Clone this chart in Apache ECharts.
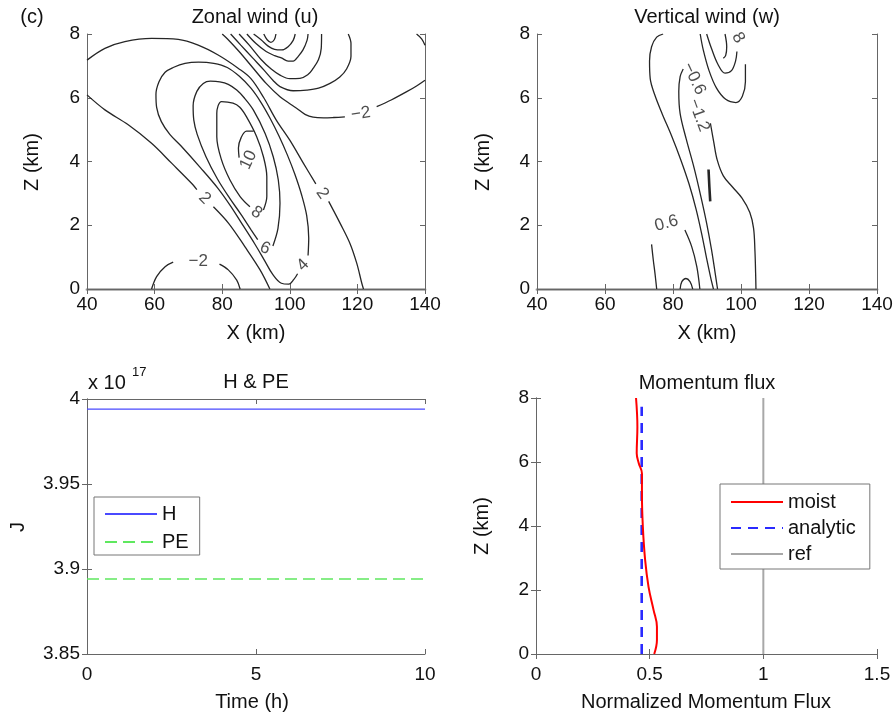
<!DOCTYPE html>
<html>
<head>
<meta charset="utf-8">
<script src="https://cdn.jsdelivr.net/npm/echarts@6/dist/echarts.min.js"></script>
<style>
  html, body { margin: 0; padding: 0; background: #fff; }
  #chart { width: 896px; height: 720px; }
</style>
</head>
<body>
<div id="chart"></div>
<script>
// ---- Zonal wind (u): contour paths, [X km, Z km] ----
const uPos2Upper = [[40,7.18],[45.3,7.55],[51.2,7.76],[59.1,7.86],[67,7.83],[72.9,7.65],[78.8,7.34],[84.8,6.92],[88.5,6.6],[92.3,6.0],[96,5.3],[100,4.67],[104,3.95],[107.7,3.3]];
const uPos2UpperTail = [[111.5,2.75],[114.9,2.06],[117.8,1.43],[119.8,0.81],[121.3,0.18],[121.8,0]];
const uPos2Lower = [[40,6.09],[45.3,5.62],[52.2,5.15],[59.1,4.57],[65.1,3.94],[71,3.31],[72.5,3.12]];
const uPos2LowerTail = [[77.4,2.58],[81.9,2.06],[86.7,1.33],[91.2,0.6],[94.1,0]];
const uPos4 = [[102.3,0.48],[101.2,0.3],[99.7,0.15],[97.5,0.18],[95,0.45],[92.5,0.9],[89.6,1.42],[86.3,1.97],[82.5,2.6],[78.8,3.15],[73.6,3.8],[67.7,4.5],[64.5,4.85],[62,5.25],[60.6,5.7],[60.4,6.1],[61.3,6.5],[63.1,6.8],[65.5,6.95],[69,7.08],[73,7.12],[77.5,7.08],[81.5,6.95],[85,6.68],[88.5,6.3],[91.5,5.85],[94.2,5.35],[96.8,4.8],[99.3,4.2],[101.5,3.6],[103.5,2.95],[105,2.3],[105.6,1.6],[105.4,1.05]];
const uPos6 = [[90.5,1.55],[88.6,1.85],[85.5,2.35],[82.2,2.85],[78.6,3.45],[75.2,4.15],[72.6,4.85],[71.6,5.3],[71.4,5.75],[72.5,6.2],[74.4,6.45],[76.5,6.52],[79.3,6.5],[81.8,6.42],[84.3,6.24],[86.5,6.0],[89.2,5.62],[92.7,4.88],[95.1,4.15],[96.6,3.42],[97.1,2.69],[96.5,1.9],[95.0,1.35]];
const uPos8 = [[88.2,2.58],[85.3,2.9],[82.3,3.42],[79.8,4.05],[78.4,4.78],[78.4,5.51],[79.8,5.88],[83.2,5.83],[85.2,5.7],[87.2,5.4],[90.2,4.78],[92.2,4.15],[93.2,3.52],[93.2,2.9],[92.2,2.48]];
const uPos10 = [[89.3,4.95],[87.2,4.95],[85.6,4.75],[84.8,4.42],[85.0,4.12]];
const uNeg2Bottom = [[59.1,0],[60.6,0.39],[63.1,0.7],[65.5,0.84]];
const uNeg2BottomTail = [[79.2,0.78],[81.8,0.6],[84.3,0.28],[85.3,0]];
const uNeg2Top = [[80,8],[81.5,7.85],[85,7.45],[89,6.95],[93,6.45],[97.1,6.03],[99.5,5.85],[102,5.67],[104.5,5.48],[106.9,5.39],[110,5.37],[113,5.38],[116.3,5.4]];
const uNeg2TopTail = [[125.7,5.72],[130,5.93],[134.6,6.19],[137.5,6.37],[140,6.55]];
const uNeg2Corner = [[137.5,8],[139,7.85],[140,7.65]];
const uNeg4 = [[82.5,8],[85.5,7.65],[89,7.25],[92.5,6.85],[95,6.55],[97.1,6.35],[101,6.22],[105,6.24],[108.5,6.3],[111.9,6.45],[114.8,6.65],[116.8,6.9],[118.1,7.3],[118.1,7.7],[117.3,8]];
const uNeg6 = [[85,8],[88,7.65],[91.5,7.2],[94.5,6.9],[97.1,6.71],[100,6.6],[103,6.61],[105.3,6.72],[106.9,6.92],[108.5,7.2],[109.3,7.55],[109.4,8]];
const uNeg8 = [[87.3,8],[90,7.7],[93,7.45],[95.5,7.32],[97.5,7.25],[99.5,7.15],[101,7.15],[102.5,7.3],[103.9,7.5],[105.1,7.8],[105.4,8]];
const uNeg10 = [[89.3,8],[91.5,7.82],[93.6,7.62],[95.5,7.52],[97.6,7.5],[99.5,7.6],[101,7.8],[101.6,8]];
const uNeg12 = [[92.3,8],[93.3,7.82],[94.4,7.74],[95.4,7.82],[95.9,8]];
const uLabelPos = [[72.9,0.86],[74.8,2.85],[109.6,3.0],[103.9,0.75],[92.7,1.28],[90.2,2.4],[87.8,4.05],[121,5.5]];
const uLabelText = ['\u22122','2','2','4','6','8','10','\u22122'];
const uLabelAngle = [0,-45,-55,45,-25,-35,65,8];

// ---- Vertical wind (w) ----
const wOuter = [[77.1,8],[75.2,7.9],[73.7,7.6],[73.1,7.15],[73.3,6.6],[74.6,6.1],[76.8,5.5],[79.6,4.8],[82.3,4.05],[84.7,3.3],[86.8,2.5],[88.5,1.7],[89.9,0.95],[91.1,0.35],[91.9,0]];
const wInner = [[83.0,6.9],[82.1,6.66],[81.7,6.2],[82.1,5.5],[83.9,4.7],[86.2,3.8],[88.2,2.9],[89.9,2.06],[91.3,1.25],[92.4,0.5],[93.1,0]];
const wRight = [[91.0,5.2],[92.0,4.6],[93.0,4.05],[94.8,3.55],[97.5,3.2],[100.3,2.85],[102.6,2.4],[103.7,1.9],[104.1,1.2],[104.3,0.5],[104.4,0]];
const wUpperU = [[88.0,8],[88.9,7.5],[90.6,6.85],[92.8,6.3],[95.5,5.95],[98.5,5.85],[100.4,6.05],[101.3,6.5],[101.3,7.05]];
const wInnerU = [[89.9,8],[91.3,7.55],[93.2,7.05],[95.3,6.77],[97.2,6.85],[98.4,7.15],[98.8,7.45]];
const wHook = [[95.3,8],[95.8,7.6],[95.5,7.33],[94.8,7.24]];
const wPos06Left = [[73.7,1.4],[74.2,0.91],[74.7,0.49],[75.2,0]];
const wPos06Right = [[83.5,1.85],[85.5,1.33],[87.0,0.7],[87.9,0]];
const wPosBump = [[82.1,0],[82.6,0.23],[83.8,0.33],[85,0.23],[85.8,0]];
const wNegDash = [[90.45,3.75],[90.7,3.2],[90.95,2.75]];
const wLabelPos = [[78.1,2.06],[86.2,6.6],[87.6,5.45],[99.2,7.88]];
const wLabelText = ['0.6','\u22120.6','\u22121.2','8'];
const wLabelAngle = [15,-65,-70,-60];

// ---- H & PE (x 10^17 J) ----
const hpeTime = [0,1,2,3,4,5,6,7,8,9,10];
const hValues = [3.9941,3.9941,3.9941,3.9941,3.9941,3.9941,3.9941,3.9941,3.9941,3.9941,3.9941];
const peValues = [3.8941,3.8941,3.8941,3.8941,3.8941,3.8941,3.8941,3.8941,3.8941,3.8941,3.8941];

// ---- Momentum flux ----
const moistZ = [0,0.44,0.85,1.38,2.1,2.94,3.98,5.0,5.65,5.96,6.27,7.1,8];
const moistFlux = [0.52,0.532,0.532,0.517,0.495,0.48,0.47,0.466,0.466,0.452,0.443,0.446,0.44];
const analyticZ = [0,7.73];
const analyticFlux = [0.465,0.465];
const refZ = [0,8];
const refFlux = [1,1];

const FONT = 'Liberation Sans, Arial, Helvetica, sans-serif';
const AXIS_COLOR = '#666';
const chart = echarts.init(document.getElementById('chart'));

const grids = [
  { left: 87, top: 34, width: 338, height: 255 },
  { left: 537, top: 34, width: 340, height: 255 },
  { left: 87, top: 399, width: 338, height: 255 },
  { left: 536, top: 398, width: 341, height: 256 }
];

const xAxes = [];
const yAxes = [];
// bottom + mirrored top axis, left + mirrored right axis (matlab box with inner ticks)
function addAxes(g, xr, yr, o) {
  const tick = { show: true, inside: true, length: 5, lineStyle: { color: AXIS_COLOR } };
  const lab = { color: '#111', fontSize: 19, fontFamily: FONT };
  xAxes.push({
    gridIndex: g, type: 'value', position: 'bottom', min: xr[0], max: xr[1], interval: xr[2],
    axisLine: { lineStyle: o.bottomLine || { color: AXIS_COLOR, width: 1 } },
    axisTick: tick, splitLine: { show: false },
    axisLabel: Object.assign({ margin: o.xMargin }, lab)
  });
  xAxes.push({
    gridIndex: g, type: 'value', position: 'top', min: xr[0], max: xr[1], interval: xr[2],
    axisLine: { lineStyle: { color: AXIS_COLOR, width: 1 } },
    axisTick: tick, splitLine: { show: false }, axisLabel: { show: false }
  });
  yAxes.push({
    gridIndex: g, type: 'value', position: 'left', min: yr[0], max: yr[1], interval: yr[2],
    axisLine: { lineStyle: { color: AXIS_COLOR, width: 1 } },
    axisTick: tick, splitLine: { show: false },
    axisLabel: Object.assign({ margin: 7, formatter: o.yFmt }, lab)
  });
  yAxes.push({
    gridIndex: g, type: 'value', position: 'right', min: yr[0], max: yr[1], interval: yr[2],
    axisLine: { lineStyle: { color: AXIS_COLOR, width: 1 } },
    axisTick: tick, splitLine: { show: false }, axisLabel: { show: false }
  });
}
addAxes(0, [40, 140, 20], [0, 8, 2], { xMargin: 6, bottomLine: { color: '#b8b8b8', width: 3 } });
addAxes(1, [40, 140, 20], [0, 8, 2], { xMargin: 6, bottomLine: { color: '#b8b8b8', width: 3 } });
addAxes(2, [0, 10, 5], [3.85, 4, 0.05], { xMargin: 11, yFmt: (v) => String(+v.toFixed(2)) });
addAxes(3, [0, 1.5, 0.5], [0, 8, 2], { xMargin: 11 });

const series = [];
function contour(g, pts) {
  series.push({
    type: 'line', xAxisIndex: g * 2, yAxisIndex: g * 2, data: pts,
    symbol: 'none', smooth: 0.35, silent: true,
    lineStyle: { color: '#262626', width: 1.3 }
  });
}
function contourLabels(g, pos, txt, ang) {
  series.push({
    type: 'scatter', xAxisIndex: g * 2, yAxisIndex: g * 2, symbolSize: 1, silent: true,
    itemStyle: { color: 'rgba(0,0,0,0)' },
    label: { show: true, position: 'inside', formatter: (p) => p.data.text, fontSize: 17, color: '#222', fontFamily: FONT },
    data: pos.map((p, i) => ({ value: p, text: txt[i], label: { rotate: ang[i] } }))
  });
}

[uPos2Upper, uPos2UpperTail, uPos2Lower, uPos2LowerTail, uPos4, uPos6, uPos8, uPos10,
 uNeg2Bottom, uNeg2BottomTail, uNeg2Top, uNeg2TopTail, uNeg2Corner,
 uNeg4, uNeg6, uNeg8, uNeg10, uNeg12].forEach((p) => contour(0, p));
contourLabels(0, uLabelPos, uLabelText, uLabelAngle);

[wOuter, wInner, wRight, wUpperU, wInnerU, wHook, wPos06Left, wPos06Right, wPosBump].forEach((p) => contour(1, p));
series.push({
  type: 'line', xAxisIndex: 2, yAxisIndex: 2, data: wNegDash, symbol: 'none', silent: true,
  lineStyle: { color: '#262626', width: 2.6 }
});
contourLabels(1, wLabelPos, wLabelText, wLabelAngle);

series.push({
  name: 'H', type: 'line', xAxisIndex: 4, yAxisIndex: 4, symbol: 'none', silent: true,
  data: hpeTime.map((t, i) => [t, hValues[i]]),
  lineStyle: { color: '#4a4aff', width: 1.2 }, itemStyle: { color: '#4a4aff' }
});
series.push({
  name: 'PE', type: 'line', xAxisIndex: 4, yAxisIndex: 4, symbol: 'none', silent: true,
  data: hpeTime.map((t, i) => [t, peValues[i]]),
  lineStyle: { color: '#5fe85f', width: 1.4, type: [12, 6] }, itemStyle: { color: '#5fe85f' }
});

series.push({
  name: 'moist', type: 'line', xAxisIndex: 6, yAxisIndex: 6, symbol: 'none', smooth: 0.4, silent: true,
  data: moistZ.map((z, i) => [moistFlux[i], z]),
  lineStyle: { color: '#ff0000', width: 2 }, itemStyle: { color: '#ff0000' }, z: 4
});
series.push({
  name: 'analytic', type: 'line', xAxisIndex: 6, yAxisIndex: 6, symbol: 'none', silent: true,
  data: analyticZ.map((z, i) => [analyticFlux[i], z]),
  lineStyle: { color: '#2a2aff', width: 2.6, type: [10, 7] }, itemStyle: { color: '#2a2aff' }, z: 3
});
series.push({
  name: 'ref', type: 'line', xAxisIndex: 6, yAxisIndex: 6, symbol: 'none', silent: true,
  data: refZ.map((z, i) => [refFlux[i], z]),
  lineStyle: { color: '#a8a8a8', width: 2 }, itemStyle: { color: '#a8a8a8' }
});

// legend shows only the line sample, no symbol
const legendBase = {
  orient: 'vertical', itemWidth: 52, itemHeight: 14, itemGap: 6, selectedMode: false,
  itemStyle: { opacity: 0 },
  textStyle: { fontSize: 20, color: '#111', fontFamily: FONT },
  borderColor: '#777', borderWidth: 1, backgroundColor: '#fff'
};

function txt(x, y, s, size, rot) {
  return {
    type: 'text', x: x, y: y, rotation: rot || 0, silent: true,
    style: { text: s, fill: '#111', font: (size || 20) + 'px ' + FONT, align: 'center', verticalAlign: 'middle' }
  };
}

chart.setOption({
  animation: false,
  grid: grids,
  xAxis: xAxes,
  yAxis: yAxes,
  legend: [
    Object.assign({}, legendBase, { data: ['H', 'PE'], left: 94, top: 497, itemGap: 8, padding: [7, 11, 3, 10] }),
    Object.assign({}, legendBase, { data: ['moist', 'analytic', 'ref'], left: 720, top: 484, padding: [8, 14, 5, 10] })
  ],
  series: series,
  graphic: [
    txt(32, 17, '(c)'),
    txt(255, 17, 'Zonal wind (u)'),
    txt(707, 17, 'Vertical wind (w)'),
    txt(256, 333, 'X (km)'),
    txt(707, 333, 'X (km)'),
    txt(32, 162, 'Z (km)', 20, Math.PI / 2),
    txt(483, 162, 'Z (km)', 20, Math.PI / 2),
    txt(256, 382, 'H & PE'),
    txt(707, 383, 'Momentum flux'),
    txt(252, 702, 'Time (h)'),
    txt(706, 702, 'Normalized Momentum Flux'),
    txt(18, 527, 'J', 20, Math.PI / 2),
    txt(482, 526, 'Z (km)', 20, Math.PI / 2),
    {
      type: 'text', x: 88, y: 383, silent: true,
      style: { text: 'x 10', fill: '#111', font: '20px ' + FONT, align: 'left', verticalAlign: 'middle' }
    },
    {
      type: 'text', x: 132, y: 372, silent: true,
      style: { text: '17', fill: '#111', font: '13px ' + FONT, align: 'left', verticalAlign: 'middle' }
    }
  ]
});
</script>
</body>
</html>
